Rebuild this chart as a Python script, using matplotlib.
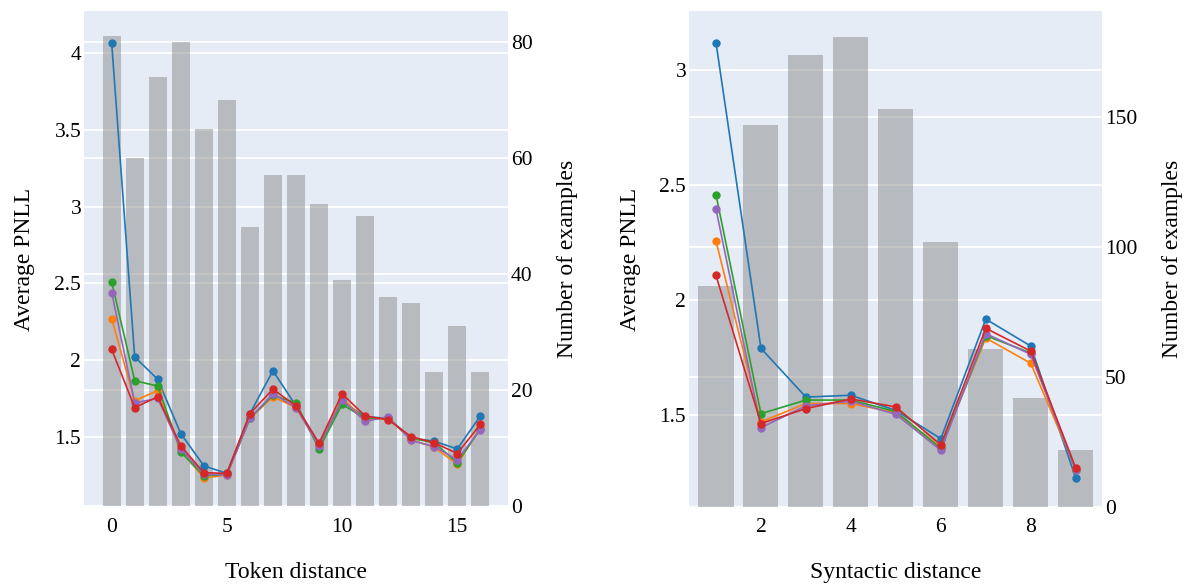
import matplotlib.pyplot as plt
from matplotlib.transforms import blended_transform_factory

plt.rcParams['font.family'] = ['Liberation Serif', 'DejaVu Serif']

# Token distance panel
tok_x = list(range(17))
tok_counts = [81, 60, 74, 80, 65, 70, 48, 57, 57, 52, 39, 50, 36, 35, 23, 31, 23]
tok_blue = [4.07, 2.02, 1.874, 1.52, 1.31, 1.26, 1.65, 1.93, 1.70, 1.45, 1.73, 1.63, 1.62, 1.49, 1.47, 1.42, 1.635]
tok_orange = [2.27, 1.735, 1.80, 1.41, 1.23, 1.25, 1.62, 1.76, 1.69, 1.44, 1.75, 1.61, 1.62, 1.48, 1.43, 1.32, 1.56]
tok_green = [2.51, 1.865, 1.83, 1.40, 1.245, 1.255, 1.62, 1.77, 1.72, 1.42, 1.71, 1.62, 1.62, 1.49, 1.46, 1.33, 1.55]
tok_purple = [2.44, 1.72, 1.75, 1.42, 1.255, 1.25, 1.62, 1.78, 1.69, 1.44, 1.74, 1.60, 1.63, 1.475, 1.435, 1.35, 1.545]
tok_red = [2.07, 1.69, 1.76, 1.44, 1.265, 1.26, 1.65, 1.81, 1.70, 1.457, 1.78, 1.635, 1.61, 1.50, 1.46, 1.39, 1.58]

# Syntactic distance panel
syn_x = list(range(1, 10))
syn_counts = [85, 147, 174, 181, 153, 102, 61, 42, 22]
syn_blue = [3.12, 1.79, 1.578, 1.586, 1.52, 1.397, 1.917, 1.80, 1.226]
syn_orange = [2.257, 1.47, 1.55, 1.55, 1.51, 1.36, 1.835, 1.725, 1.265]
syn_green = [2.458, 1.506, 1.565, 1.565, 1.515, 1.355, 1.845, 1.77, 1.26]
syn_purple = [2.396, 1.445, 1.54, 1.56, 1.503, 1.347, 1.854, 1.764, 1.26]
syn_red = [2.107, 1.463, 1.528, 1.57, 1.535, 1.37, 1.877, 1.778, 1.27]

colors = ['#1f77b4', '#ff7f0e', '#2ca02c', '#9467bd', '#d62728']
bg = '#E5ECF6'


def panel(rect, x, counts, series, xlim, ylim, y2lim, yticks, y2ticks, xticks, xlabel, pads):
    ax2 = fig.add_axes(rect)  # bars (right axis), drawn behind
    ax1 = ax2.twinx()         # lines (left axis), on top
    ax1.yaxis.tick_left()
    ax1.yaxis.set_label_position('left')
    ax2.yaxis.tick_right()
    ax2.yaxis.set_label_position('right')
    ax1.set_zorder(ax2.get_zorder() + 1)
    ax1.patch.set_visible(False)
    ax2.set_facecolor(bg)

    ax2.set_axisbelow(True)
    ax2.grid(axis='y', color='white', linewidth=1.3)
    ax2.grid(axis='x', visible=False)
    ax2.bar(x, counts, width=0.78, color='gray', alpha=0.45, zorder=1)

    # PNLL gridlines sit under the bars too
    tr = blended_transform_factory(ax2.transAxes, ax1.transData)
    for v in yticks:
        ax2.plot([0, 1], [v, v], transform=tr, color='white', linewidth=1.3, zorder=0.5)

    for s, c in zip(series, colors):
        ax1.plot(x, s, color=c, marker='o', markersize=5, linewidth=1.2)

    ax1.set_xlim(*xlim)
    ax1.set_ylim(*ylim)
    ax2.set_ylim(*y2lim)
    ax1.set_yticks(yticks)
    ax1.set_yticklabels(['%g' % v for v in yticks])
    ax2.set_yticks(y2ticks)
    ax1.set_xticks(xticks)
    ax2.set_xticks(xticks)

    for a in (ax1, ax2):
        for sp in a.spines.values():
            sp.set_visible(False)
        a.tick_params(length=0, labelsize=15.5)
    ax2.tick_params(axis='x', pad=8)
    ax1.tick_params(axis='y', pad=2)
    ax2.tick_params(axis='y', pad=2)

    ax2.set_xlabel(xlabel, fontsize=17, labelpad=pads[0])
    ax1.set_ylabel('Average PNLL', fontsize=17, labelpad=pads[1])
    ax2.set_ylabel('Number of examples', fontsize=17, labelpad=pads[2])


fig = plt.figure(figsize=(11.9, 5.86), dpi=100)

panel([84 / 1190, 79 / 586, 424 / 1190, 496 / 586], tok_x, tok_counts,
      [tok_blue, tok_orange, tok_green, tok_purple, tok_red],
      (-1.2, 17.2), (1.041, 4.277), (-0.2, 85.3),
      [1.5, 2, 2.5, 3, 3.5, 4], [0, 20, 40, 60, 80], [0, 5, 10, 15],
      'Token distance', (18, 14, 17.5))

panel([689 / 1190, 79 / 586, 413 / 1190, 496 / 586], syn_x, syn_counts,
      [syn_blue, syn_orange, syn_green, syn_purple, syn_red],
      (0.4, 9.585), (1.1, 3.257), (0, 190.9),
      [1.5, 2, 2.5, 3], [0, 50, 100, 150], [2, 4, 6, 8],
      'Syntactic distance', (18, 13, 18))

plt.savefig('out.png', dpi=100)
